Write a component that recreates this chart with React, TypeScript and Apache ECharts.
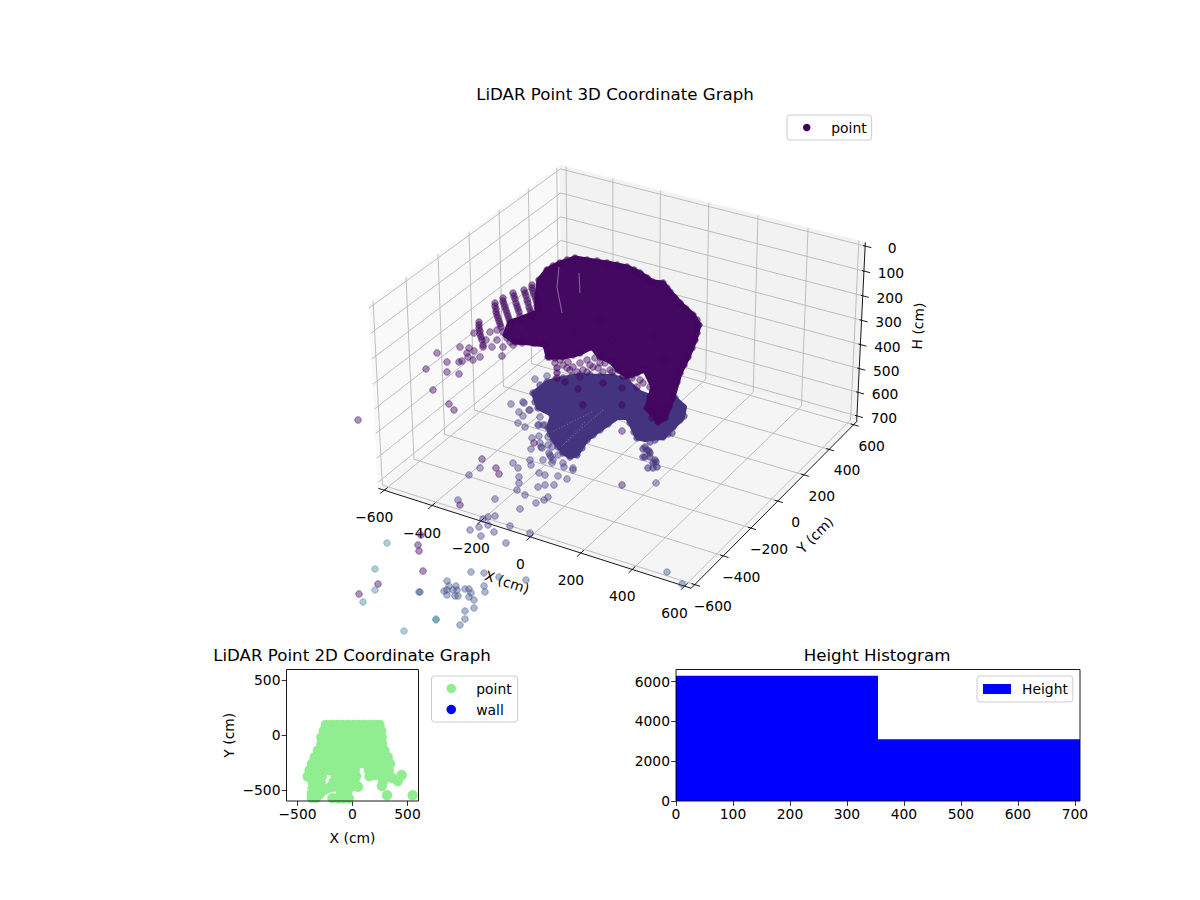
import { useEffect, useRef } from 'react'
import * as echarts from 'echarts'

const FONT = '"DejaVu Sans"'

// 3D axes
const xTicks = [-600, -400, -200, 0, 200, 400, 600]
const yTicks = [-600, -400, -200, 0, 200, 400, 600]
const hTicks = [0, 100, 200, 300, 400, 500, 600, 700]

// 3D cloud, as it lands on the picture plane (there is no depth left to read)
const sparsePurple = [
  [358, 420], [433, 390], [449, 404], [454, 410], [482, 459], [496, 468], [499, 474], [460, 505],
  [421, 535], [418, 545], [419, 551], [423, 571], [378, 584], [359, 594], [426, 369], [437, 353],
  [447, 362], [447, 372], [459, 374], [459, 362], [462, 361], [460, 347], [469, 348], [467, 353],
  [474, 351], [468, 357], [473, 360], [480, 357], [502, 356], [474, 333], [483, 347], [622, 431],
  [622, 485], [534, 443],
]
const sparseIndigo = [
  [511, 404], [524, 403], [519, 412], [523, 416], [518, 423], [525, 427], [529, 410], [540, 417],
  [539, 425], [545, 425], [532, 438], [539, 436], [531, 449], [541, 447], [540, 443], [548, 445],
  [549, 453], [551, 457], [543, 460], [552, 463], [530, 460], [531, 465], [480, 468], [469, 475],
  [513, 463], [518, 468], [519, 477], [519, 483], [517, 490], [525, 495], [539, 473], [545, 475],
  [558, 476], [567, 479], [573, 470], [564, 467], [538, 487], [545, 485], [554, 485], [548, 497],
  [544, 500], [536, 503], [520, 509], [458, 500], [495, 499], [495, 516], [488, 517], [483, 519],
  [488, 525], [479, 527], [470, 530], [494, 532], [481, 536], [510, 526], [530, 533], [506, 543],
  [656, 483], [535, 379], [547, 376], [523, 402], [530, 410], [538, 425], [543, 425], [542, 448],
  [553, 460], [563, 463], [573, 468], [558, 455], [550, 455], [552, 447], [548, 437],
]
const sparseBlue = [
  [471, 572], [484, 573], [499, 577], [526, 580], [419, 592], [420, 592], [447, 581], [449, 586],
  [456, 586], [444, 591], [447, 590], [453, 590], [457, 590], [465, 589], [469, 589], [484, 586],
  [485, 592], [471, 593], [447, 595], [455, 596], [458, 596], [469, 597], [474, 600], [474, 608],
  [465, 611], [465, 619], [460, 625], [667, 572], [682, 584],
]
const sparseTeal = [
  [387, 543], [375, 569], [375, 590], [363, 602], [436, 619], [436, 620], [404, 631],
]
const ribPoints = [
  [479, 322], [479, 325], [479, 328], [480, 331], [480, 334], [481, 337], [482, 340], [483, 345],
  [495, 303], [495, 306], [496, 309], [496, 312], [497, 315], [498, 318], [499, 321], [500, 324], [501, 327],
  [503, 298], [503, 301], [504, 304], [505, 307], [506, 310], [507, 313], [508, 316], [509, 319], [510, 322],
  [513, 293], [514, 296], [515, 299], [516, 303], [517, 306], [518, 309], [519, 312], [520, 316], [522, 319],
  [524, 290], [525, 293], [526, 296], [527, 300], [528, 303], [529, 307], [530, 310], [531, 313], [532, 316],
  [532, 285], [532, 288], [533, 291], [534, 294], [535, 297], [536, 300], [537, 303], [537, 306], [538, 309],
]
const underRibPoints = [
  [490, 332], [497, 340], [503, 347], [510, 342], [517, 337], [525, 335], [533, 343], [492, 347],
  [510, 333], [520, 330], [503, 332], [497, 330], [486, 340], [507, 338], [513, 345], [522, 343],
]
const domeEdgePoints = [
  [539, 280], [547, 270], [553, 266], [560, 263], [567, 260], [575, 258], [587, 260], [597, 261],
  [607, 263], [617, 265], [627, 267], [634, 270], [640, 273], [647, 278], [653, 282], [663, 283],
  [667, 288], [670, 292], [675, 298], [680, 303], [686, 309], [693, 315], [697, 320], [699, 325],
  [697, 333], [695, 340], [692, 348], [688, 357], [684, 365], [680, 373], [677, 382], [673, 397],
  [669, 407], [665, 418], [658, 422], [652, 418], [647, 408], [650, 397], [653, 387], [645, 370],
  [637, 373], [632, 375], [627, 376], [623, 376], [618, 370], [612, 362], [600, 357], [592, 347],
  [580, 353], [573, 355], [563, 357], [555, 358], [548, 357], [545, 345], [535, 343], [523, 341], [515, 342],
]
const midPoints = [
  [550, 357], [548, 348], [560, 360], [568, 362], [570, 370], [587, 360], [595, 358],
  [605, 363], [593, 367], [587, 372], [603, 372], [610, 370], [573, 367], [580, 377],
  [632, 378], [640, 380], [637, 387], [643, 383], [650, 387], [555, 363], [563, 365], [580, 363],
  [600, 363], [612, 372], [615, 365], [598, 368], [590, 365], [567, 368], [577, 372], [583, 370],
]
const fanEdgePoints = [
  [675, 398], [683, 407], [684, 416], [678, 408], [673, 427], [663, 437], [672, 433], [645, 447], [650, 453],
  [655, 460], [657, 467], [648, 468], [643, 457], [647, 450], [653, 463],
  [653, 468], [656, 462], [645, 457], [650, 457], [649, 451], [643, 449], [650, 442],
  [533, 393], [540, 385], [547, 382], [555, 380], [563, 378], [572, 376], [580, 375], [590, 375], [600, 376],
  [613, 376], [620, 379], [627, 381], [535, 402], [538, 408], [552, 415], [668, 397],
  [660, 397], [637, 438], [630, 423], [634, 432], [680, 420], [668, 434], [655, 440],
  [548, 428], [550, 434], [553, 440], [558, 447], [563, 453], [570, 457], [577, 455], [582, 448], [587, 440], [593, 435], [600, 430], [608, 424],
]
const darkSpots = [
  [565, 382], [578, 389], [603, 383], [583, 405], [622, 405], [622, 388], [557, 368], [557, 373],
  [557, 378], [652, 410], [660, 417], [656, 412], [612, 340], [640, 350], [655, 335], [664, 360],
  [600, 320], [575, 330], [657, 406], [650, 402], [664, 408],
]
const domeOutline = [
  [539, 280], [547, 270], [560, 263], [575, 258], [587, 260], [607, 263], [627, 267], [640, 273],
  [653, 282], [663, 283], [670, 292], [680, 303], [693, 315], [699, 325], [695, 340], [688, 357],
  [680, 373], [673, 397], [665, 418], [658, 422], [647, 408], [653, 387], [645, 370],
  [637, 373], [627, 376], [618, 370], [612, 362], [600, 357], [592, 347],
  [580, 353], [573, 355], [563, 357], [548, 357], [545, 345], [530, 343], [515, 342], [505, 335],
  [510, 322], [522, 318], [537, 312], [537, 297],
]
const fanOutline = [
  [533, 393], [547, 382], [563, 378], [580, 375], [600, 376], [613, 376], [627, 381], [640, 392],
  [653, 397], [673, 396], [685, 407], [683, 418], [673, 428], [663, 438], [650, 439], [645, 440],
  [637, 438], [630, 423], [627, 418], [617, 418], [600, 430], [587, 440], [577, 455], [570, 457],
  [563, 453], [553, 440], [548, 428], [552, 415], [538, 408],
]
// thin uncovered strips across the top of the dome and through the lower fan
const domeGaps = [
  [[559, 267], [557, 287], [562, 313]],
  [[579, 273], [580, 293]],
]
const fanGaps = [
  [[592, 412], [550, 433]],
  [[603, 410], [557, 450]],
  [[585, 422], [562, 446]],
]

// 2D footprint
const flatX = [
  -240, -190, -140, -90, -40, 10, 60, 110, 160, 210, 245,
  -260, -200, -140, -80, -20, 40, 100, 160, 220, 260,
  -283, -220, -160, -100, -40, 20, 80, 140, 200, 265,
  -283, -220, -160, -100, -40, 20, 80, 140, 200, 270,
  -314, -250, -190, -130, -70, -10, 50, 110, 170, 230, 290,
  -344, -280, -220, -160, -100, -40, 20, 80, 140, 200, 260, 320,
  -368, -305, -245, -185, -125, -65, -5, 55, 115, 175, 235, 295, 341,
  -390, -330, -270, -210, -150, -90, -30, 20, 150, 210, 270, 330,
  -407, -340, -280, -150, -90, -30, 32, 155, 205, 270, 320, 360, 447, 411,
  -362, -290, -173, -100, -40, 20, 268, 280,
  -362, -310, -259, -215, -170, -130, -70, -10, 50,
  -370, -340, -300, -105, -50, 314, 547,
  -370, -330, -182, -130, -80, -34,
]
const flatY = [
  95, 95, 95, 95, 95, 95, 95, 95, 95, 95, 95,
  40, 40, 40, 40, 40, 40, 40, 40, 40, 40,
  -20, -20, -20, -20, -20, -20, -20, -20, -20, -20,
  -80, -80, -80, -80, -80, -80, -80, -80, -80, -80,
  -140, -140, -140, -140, -140, -140, -140, -140, -140, -140, -140,
  -200, -200, -200, -200, -200, -200, -200, -200, -200, -200, -200, -200,
  -260, -260, -260, -260, -260, -260, -260, -260, -260, -260, -260, -260, -260,
  -320, -320, -320, -320, -320, -320, -320, -320, -320, -320, -320, -320,
  -377, -375, -375, -375, -375, -375, -375, -375, -362, -375, -375, -390, -362, -417,
  -430, -430, -430, -430, -430, -430, -463, -415,
  -480, -475, -499, -480, -470, -470, -470, -470, -470,
  -530, -530, -540, -520, -520, -548, -548,
  -570, -570, -575, -575, -575, -575,
]
const flatTicks = [-500, 0, 500]

// histogram
const binEdges = [0, 354.5, 709]
const binCounts = [6300, 3100]

const XE = 625
const HTOP = -14.8
const HBOT = 724.8

// same view as the source plot: elev 30, azim -60, eye distance 10
function project(x: number, y: number, h: number) {
  const qx = (x / 600) * 0.59524
  const qy = (y / 600) * 0.59524
  const qz = ((355 - h) / 355) * 0.3552
  const xv = 0.86603 * qx + 0.5 * qy
  const yv = -0.25 * qx + 0.43301 * qy + 0.86603 * qz
  const zv = 10 - (0.43301 * qx - 0.75 * qy + 0.5 * qz)
  return [622.1 + (2875 * xv) / zv, 365.2 - (2834 * yv) / zv]
}

const minus = (v: number) => String(v).replace('-', '\u2212')

type Shape = {
  pts?: number[][]
  fill?: string
  stroke?: string
  width?: number
  text?: string
  at?: number[]
  rotate?: number
}

function buildBox() {
  const shapes: Shape[] = []
  const poly = (corners: number[][], fill: string) =>
    shapes.push({ pts: corners.map((c) => project(c[0], c[1], c[2])), fill, stroke: fill, width: 1 })
  const line = (corners: number[][], stroke: string, width: number) =>
    shapes.push({ pts: corners.map((c) => project(c[0], c[1], c[2])), stroke, width })

  poly([[-XE, -XE, HBOT], [-XE, XE, HBOT], [-XE, XE, HTOP], [-XE, -XE, HTOP]], '#f9f9f9')
  poly([[-XE, XE, HBOT], [XE, XE, HBOT], [XE, XE, HTOP], [-XE, XE, HTOP]], '#f2f2f2')
  poly([[-XE, -XE, HBOT], [XE, -XE, HBOT], [XE, XE, HBOT], [-XE, XE, HBOT]], '#f5f5f5')

  const gridColor = '#b8b8b8'
  xTicks.forEach((x) => line([[x, -XE, HBOT], [x, XE, HBOT], [x, XE, HTOP]], gridColor, 0.9))
  yTicks.forEach((y) => line([[XE, y, HBOT], [-XE, y, HBOT], [-XE, y, HTOP]], gridColor, 0.9))
  hTicks.forEach((h) => line([[-XE, -XE, h], [-XE, XE, h], [XE, XE, h]], gridColor, 0.9))

  line([[-XE, -XE, HBOT], [XE, -XE, HBOT]], '#000', 0.9)
  line([[XE, -XE, HBOT], [XE, XE, HBOT]], '#000', 0.9)
  line([[XE, XE, HBOT], [XE, XE, HTOP]], '#000', 0.9)

  const label = (text: string, at: number[], rotate = 0) => shapes.push({ text, at, rotate })
  xTicks.forEach((x) => {
    line([[x, -XE + 20, HBOT], [x, -XE - 25, HBOT]], '#000', 0.9)
    const p = project(x, -XE, HBOT)
    label(minus(x), [p[0] - 10, p[1] + 27])
  })
  yTicks.forEach((y) => {
    line([[XE - 12, y, HBOT], [XE + 20, y, HBOT]], '#000', 0.9)
    const p = project(XE, y, HBOT)
    label(minus(y), [p[0] + 18, p[1] + 21])
  })
  hTicks.forEach((h) => {
    line([[XE - 8, XE, h], [XE + 24, XE, h]], '#000', 0.9)
    const p = project(XE, XE, h)
    label(minus(h), [p[0] + 27, p[1] + 2])
  })
  label('X (cm)', [507, 582], (-18 * Math.PI) / 180)
  label('Y (cm)', [815, 535], (45 * Math.PI) / 180)
  label('H (cm)', [918, 326], (87 * Math.PI) / 180)
  return shapes
}

const boxShapes = buildBox()

function App() {
  const chartRef = useRef<HTMLDivElement>(null)

  useEffect(() => {
    if (!chartRef.current) return
    const chart = echarts.init(chartRef.current, undefined, { renderer: 'svg' })

    const hiddenAxis = (inverse: boolean, max: number) => ({
      type: 'value',
      show: false,
      gridIndex: 0,
      min: 0,
      max,
      inverse,
    })
    const flatAxis = (name: string, gap: number) => ({
      type: 'value',
      gridIndex: 1,
      min: -600,
      max: 600,
      name,
      nameLocation: 'middle',
      nameGap: gap,
      nameTextStyle: { fontFamily: FONT, fontSize: 13.89, color: '#000' },
      axisLine: { show: false, onZero: false },
      axisTick: { show: true, length: 4.9, customValues: flatTicks, lineStyle: { color: '#000', width: 0.8 } },
      axisLabel: { customValues: flatTicks, formatter: minus, fontFamily: FONT, fontSize: 13.89, color: '#000', margin: 6 },
      splitLine: { show: false },
    })
    const histAxis = (min: number, max: number, interval: number) => ({
      type: 'value',
      gridIndex: 2,
      min,
      max,
      interval,
      axisLine: { show: false, onZero: false },
      axisTick: { show: true, length: 4.9, lineStyle: { color: '#000', width: 0.8 } },
      axisLabel: { formatter: (v: number) => String(v), fontFamily: FONT, fontSize: 13.89, color: '#000', margin: 6, showMaxLabel: false },
      splitLine: { show: false },
    })
    const cloud = (data: number[][], fill: string, stroke: string, z: number) => ({
      name: 'point',
      type: 'scatter',
      xAxisIndex: 0,
      yAxisIndex: 0,
      data,
      z,
      symbolSize: 6.6,
      clip: false,
      silent: true,
      itemStyle: { color: fill, borderColor: stroke, borderWidth: 1, opacity: 1 },
    })
    const mass = (outline: number[][], fill: string, grow: number, z: number) => ({
      name: 'cloud',
      type: 'custom',
      xAxisIndex: 0,
      yAxisIndex: 0,
      z,
      silent: true,
      data: [[0, 0]],
      renderItem: (_: any, api: any) => ({
        type: 'polygon',
        shape: { points: outline.map((p) => api.coord(p)) },
        style: { fill, stroke: fill, lineWidth: grow, lineJoin: 'round' },
      }),
    })
    const gaps = (strips: number[][][], stroke: string, z: number, lineDash?: number[]) => ({
      name: 'cloud',
      type: 'custom',
      xAxisIndex: 0,
      yAxisIndex: 0,
      z,
      silent: true,
      data: strips.map(() => [0, 0]),
      renderItem: (params: any, api: any) => ({
        type: 'polyline',
        shape: { points: strips[params.dataIndex].map((p) => api.coord(p)) },
        style: { fill: 'none', stroke, lineWidth: 1, lineDash },
      }),
    })

    const titleStyle = { fontFamily: FONT, fontSize: 16.67, fontWeight: 'normal', color: '#000' }
    const legendBase = {
      orient: 'vertical',
      selectedMode: false,
      backgroundColor: 'rgba(255,255,255,0.8)',
      borderColor: '#ccc',
      borderWidth: 1,
      borderRadius: 3,
      textStyle: { fontFamily: FONT, fontSize: 13.89, color: '#000' },
    }

    chart.setOption({
      animation: false,
      backgroundColor: '#fff',
      title: [
        { text: 'LiDAR Point 3D Coordinate Graph', left: 615, top: 86, textAlign: 'center', padding: 0, textStyle: titleStyle },
        { text: 'LiDAR Point 2D Coordinate Graph', left: 352, top: 647, textAlign: 'center', padding: 0, textStyle: titleStyle },
        { text: 'Height Histogram', left: 877, top: 647, textAlign: 'center', padding: 0, textStyle: titleStyle },
      ],
      legend: [
        {
          ...legendBase,
          left: 787,
          top: 115,
          padding: [5.5, 5, 5.5, 16],
          itemWidth: 39,
          itemHeight: 7.5,
          data: [{ name: 'point', icon: 'circle', itemStyle: { color: '#440154', borderWidth: 0, opacity: 1 } }],
        },
        {
          ...legendBase,
          left: 431.5,
          top: 676,
          padding: [5.5, 6, 5.5, 15],
          itemWidth: 40,
          itemHeight: 9.5,
          itemGap: 7,
          data: [
            { name: 'point', icon: 'circle', itemStyle: { color: '#90ee90', borderWidth: 0, opacity: 1 } },
            { name: 'wall', icon: 'circle', itemStyle: { color: '#0000ff', borderWidth: 0, opacity: 1 } },
          ],
        },
        {
          ...legendBase,
          left: 977,
          top: 676,
          padding: [6, 5, 6, 6],
          itemWidth: 28,
          itemHeight: 10,
          textStyle: { ...legendBase.textStyle, padding: [0, 0, 0, 6] },
          data: [{ name: 'Height', icon: 'rect', itemStyle: { color: '#0000ff', opacity: 1 } }],
        },
      ],
      grid: [
        { left: 0, top: 0, width: 1200, height: 900 },
        { left: 286.5, top: 669.5, width: 132, height: 131.5, show: true, borderColor: '#000', borderWidth: 0.9, backgroundColor: 'transparent', z: 5 },
        { left: 676, top: 669.5, width: 404, height: 131.5, show: true, borderColor: '#000', borderWidth: 0.9, backgroundColor: 'transparent', z: 5 },
      ],
      xAxis: [
        hiddenAxis(false, 1200),
        flatAxis('X (cm)', 30),
        histAxis(0, 709, 100),
      ],
      yAxis: [
        hiddenAxis(true, 900),
        flatAxis('Y (cm)', 51),
        histAxis(0, 6615, 2000),
      ],
      series: [
        {
          name: 'box',
          type: 'custom',
          xAxisIndex: 0,
          yAxisIndex: 0,
          z: 1,
          silent: true,
          data: boxShapes.map(() => [0, 0]),
          renderItem: (params: any, api: any) => {
            const s = boxShapes[params.dataIndex]
            if (s.text) {
              const c = api.coord(s.at)
              return {
                type: 'text',
                x: c[0],
                y: c[1],
                rotation: s.rotate,
                style: { text: s.text, fill: '#000', font: `13.89px ${FONT}`, textAlign: 'center', textVerticalAlign: 'middle' },
              }
            }
            const pts = (s.pts as number[][]).map((p) => api.coord(p))
            return s.fill
              ? { type: 'polygon', shape: { points: pts }, style: { fill: s.fill, stroke: s.stroke, lineWidth: s.width } }
              : { type: 'polyline', shape: { points: pts }, style: { fill: 'none', stroke: s.stroke, lineWidth: s.width } }
          },
        },
        cloud(sparseTeal, 'rgba(49,120,150,0.38)', 'rgba(49,120,150,0.4)', 2),
        cloud(sparseBlue, 'rgba(59,82,139,0.42)', 'rgba(59,82,139,0.45)', 2),
        cloud(sparseIndigo, 'rgba(67,56,130,0.42)', 'rgba(67,56,130,0.5)', 2),
        cloud(sparsePurple, 'rgba(72,12,104,0.45)', 'rgba(72,12,104,0.5)', 2),
        mass(fanOutline, '#44347f', 4, 3),
        cloud(fanEdgePoints, 'rgba(68,52,127,0.6)', 'rgba(68,52,127,0.55)', 3),
        gaps(fanGaps, 'rgba(190,180,225,0.45)', 3, [1, 2]),
        cloud(midPoints, 'rgba(72,12,104,0.45)', 'rgba(72,12,104,0.5)', 4),
        cloud(underRibPoints, 'rgba(72,12,104,0.45)', 'rgba(72,12,104,0.5)', 4),
        cloud(ribPoints, 'rgba(66,6,96,0.55)', 'rgba(66,6,96,0.45)', 4),
        mass(domeOutline, '#43085f', 5, 4),
        cloud(domeEdgePoints, 'rgba(66,6,96,0.6)', 'rgba(66,6,96,0.5)', 4),
        cloud(darkSpots, 'rgba(66,6,96,0.6)', 'rgba(66,6,96,0.5)', 5),
        gaps(domeGaps, 'rgba(200,185,215,0.55)', 5),
        {
          name: 'point',
          type: 'scatter',
          xAxisIndex: 1,
          yAxisIndex: 1,
          data: flatX.map((x, i) => [x, flatY[i]]),
          symbolSize: 10.4,
          clip: true,
          silent: true,
          itemStyle: { color: '#90ee90', opacity: 1 },
        },
        {
          name: 'wall',
          type: 'scatter',
          xAxisIndex: 1,
          yAxisIndex: 1,
          data: [],
          itemStyle: { color: '#0000ff', opacity: 1 },
        },
        {
          name: 'Height',
          type: 'custom',
          xAxisIndex: 2,
          yAxisIndex: 2,
          silent: true,
          clip: true,
          itemStyle: { color: '#0000ff' },
          data: binCounts.map((c, i) => [binEdges[i], binEdges[i + 1], c]),
          encode: { x: [0, 1], y: 2 },
          renderItem: (_: any, api: any) => {
            const a = api.coord([api.value(0), api.value(2)])
            const b = api.coord([api.value(1), 0])
            return {
              type: 'rect',
              shape: { x: a[0], y: a[1], width: b[0] - a[0], height: b[1] - a[1] },
              style: { fill: '#0000ff' },
            }
          },
        },
      ],
    })

    return () => chart.dispose()
  }, [])

  return <div ref={chartRef} style={{ position: 'absolute', left: 0, top: 0, width: 1200, height: 900 }}></div>
}

export default App
